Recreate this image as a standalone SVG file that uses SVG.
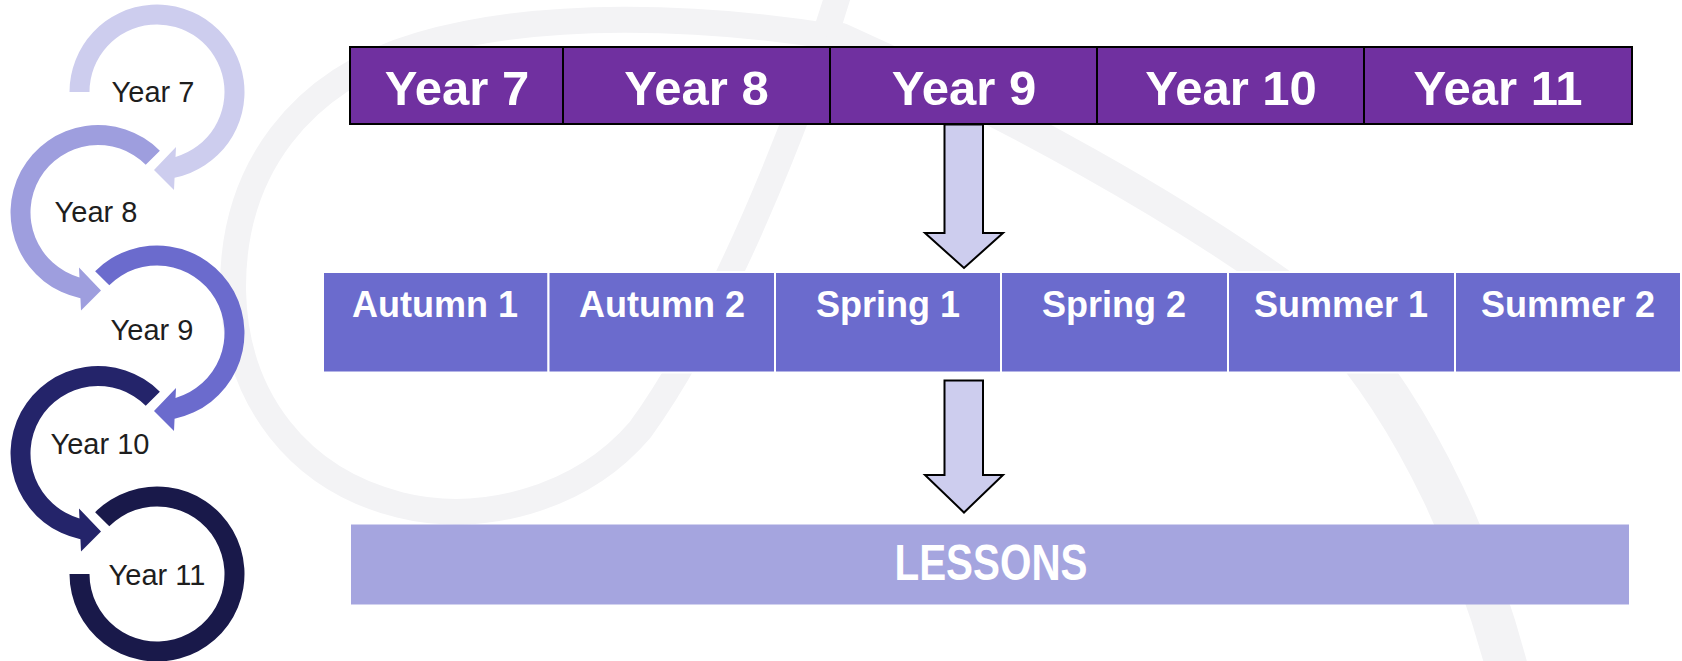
<svg xmlns="http://www.w3.org/2000/svg" width="1682" height="661" viewBox="0 0 1682 661">
  <style>
    .wm { fill: none; stroke: #F3F3F5; stroke-linecap: round; }
    .ringlbl { font-family: "Liberation Sans", Arial, sans-serif; font-size: 29px; fill: #1E1E1E; text-anchor: middle; }
    .yearcell { fill: #7030A0; stroke: #000000; stroke-width: 2; }
    .yeartxt { font-family: "Liberation Sans", Arial, sans-serif; font-weight: bold; font-size: 49px; fill: #FFFFFF; text-anchor: middle; }
    .termcell { fill: #6B6BCD; stroke: #FFFFFF; stroke-width: 2; }
    .termtxt { font-family: "Liberation Sans", Arial, sans-serif; font-weight: bold; font-size: 36px; fill: #FFFFFF; text-anchor: middle; }
    .down { fill: #CDCDEE; stroke: #000000; stroke-width: 2; stroke-linejoin: miter; }
  </style>
  <defs>
    <!-- clockwise ring arrow, head at the bottom pointing left -->
    <path id="cwArrow" d="M -61.87 -61.87 A 87.5 87.5 0 1 1 17.57 85.74 L 17 98 L -3 78 L 19 55 L 18.54 64.9 A 67.5 67.5 0 1 0 -47.73 -47.73 Z"/>
    <!-- counter-clockwise ring arrow, head at the bottom pointing right -->
    <path id="ccwArrow" d="M 61.87 -61.87 A 87.5 87.5 0 1 0 -17.57 85.74 L -17 98 L 3 78 L -19 55 L -18.54 64.9 A 67.5 67.5 0 1 1 47.73 -47.73 Z"/>
  </defs>

  <rect x="0" y="0" width="1682" height="661" fill="#FFFFFF"/>

  <!-- faint background swirl -->
  <g id="watermark">
    <path class="wm" stroke-width="26" d="M 838 -5 C 800 120, 720 320, 640 430 C 580 500, 480 525, 400 505 C 300 480, 235 400, 233 290 C 232 170, 300 80, 420 45 C 540 10, 700 15, 841 38"/>
    <path class="wm" stroke-width="30" d="M 841 38 C 990 105, 1190 210, 1330 320"/>
    <path class="wm" stroke-width="42" d="M 1330 320 C 1420 420, 1480 560, 1510 680"/>
  </g>

  <!-- year cycle -->
  <g id="cycle-year7">
    <path fill="#CDCDEE" transform="translate(157,92)" d="M -87.5 0 A 87.5 87.5 0 1 1 17.57 85.74 L 17 98 L -3 78 L 19 55 L 18.54 64.9 A 67.5 67.5 0 1 0 -67.5 0 Z"/>
    <text class="ringlbl" x="153" y="102">Year 7</text>
  </g>
  <g id="cycle-year8">
    <use href="#ccwArrow" fill="#9E9EDE" transform="translate(98,212.5)"/>
    <text class="ringlbl" x="96" y="222">Year 8</text>
  </g>
  <g id="cycle-year9">
    <use href="#cwArrow" fill="#6B6BCD" transform="translate(157,333)"/>
    <text class="ringlbl" x="152" y="340">Year 9</text>
  </g>
  <g id="cycle-year10">
    <use href="#ccwArrow" fill="#24246A" transform="translate(98,453.5)"/>
    <text class="ringlbl" x="100" y="454">Year 10</text>
  </g>
  <g id="cycle-year11">
    <path fill="#19194A" transform="translate(157,574)" d="M -61.87 -61.87 A 87.5 87.5 0 1 1 -87.5 0 L -67.5 0 A 67.5 67.5 0 1 0 -47.73 -47.73 Z"/>
    <text class="ringlbl" x="157" y="585">Year 11</text>
  </g>

  <!-- year bar -->
  <g id="year-bar">
    <g id="year7"><rect class="yearcell" x="350" y="47" width="213" height="77"/><text class="yeartxt" x="457" y="104.5">Year 7</text></g>
    <g id="year8"><rect class="yearcell" x="563" y="47" width="267" height="77"/><text class="yeartxt" x="696.5" y="104.5">Year 8</text></g>
    <g id="year9"><rect class="yearcell" x="830" y="47" width="267" height="77"/><text class="yeartxt" x="964" y="104.5">Year 9</text></g>
    <g id="year10"><rect class="yearcell" x="1097" y="47" width="267" height="77"/><text class="yeartxt" x="1231" y="104.5">Year 10</text></g>
    <g id="year11"><rect class="yearcell" x="1364" y="47" width="268" height="77"/><text class="yeartxt" x="1498" y="104.5">Year 11</text></g>
  </g>

  <!-- term bar -->
  <g id="term-bar">
    <g id="autumn1"><rect class="termcell" x="323" y="272" width="225.5" height="100.5"/><text class="termtxt" x="435" y="317">Autumn 1</text></g>
    <g id="autumn2"><rect class="termcell" x="548.5" y="272" width="226.5" height="100.5"/><text class="termtxt" x="662" y="317">Autumn 2</text></g>
    <g id="spring1"><rect class="termcell" x="775" y="272" width="226" height="100.5"/><text class="termtxt" x="888" y="317">Spring 1</text></g>
    <g id="spring2"><rect class="termcell" x="1001" y="272" width="227" height="100.5"/><text class="termtxt" x="1114" y="317">Spring 2</text></g>
    <g id="summer1"><rect class="termcell" x="1228" y="272" width="227" height="100.5"/><text class="termtxt" x="1341" y="317">Summer 1</text></g>
    <g id="summer2"><rect class="termcell" x="1455" y="272" width="226" height="100.5"/><text class="termtxt" x="1568" y="317">Summer 2</text></g>
  </g>

  <!-- lessons bar -->
  <g id="lessons">
    <rect x="351" y="524.5" width="1278" height="80" fill="#A5A5DF"/>
    <text x="991" y="580" font-family="Liberation Sans, Arial, sans-serif" font-weight="bold" font-size="50" fill="#FFFFFF" text-anchor="middle" textLength="193" lengthAdjust="spacingAndGlyphs">LESSONS</text>
  </g>

  <!-- block arrows between the bars -->
  <g id="connectors">
    <polygon class="down" points="944.5,124.5 983,124.5 983,233 1003,233 964,268 925,233 944.5,233"/>
    <polygon class="down" points="944.5,380.5 983,380.5 983,475 1003,475 964,512.5 925,475 944.5,475"/>
  </g>
</svg>
